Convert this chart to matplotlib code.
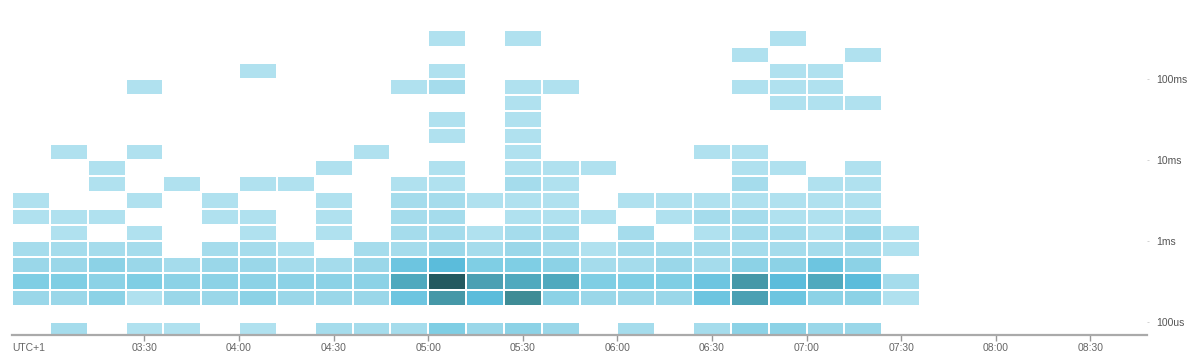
import numpy as np
import matplotlib
matplotlib.use("Agg")
import matplotlib.pyplot as plt
import matplotlib.dates as mdates
from matplotlib.colors import LinearSegmentedColormap, Normalize
from datetime import datetime, timedelta

plt.rcParams['font.family'] = ['Liberation Sans', 'DejaVu Sans']

# 12-minute time bins, 02:48 .. 07:36 (UTC+1)
bin_start = datetime(2024, 1, 1, 2, 48)
bin_minutes = 12
n_bins = 24

# latency buckets: 5 per decade, lowest bucket edge at 10^-4.2 s
bucket_lo_exp = -4.2
bucket_step = 0.2

# counts per bucket (rows: top bucket first), one column per time bin
counts = [
    # 0  1  2  3  4  5  6  7  8  9 10 11 12 13 14 15 16 17 18 19 20 21 22 23
    [0, 0, 0, 0, 0, 0, 0, 0, 0, 0, 0, 1, 0, 1, 0, 0, 0, 0, 0, 0, 1, 0, 0, 0],  # 18
    [0, 0, 0, 0, 0, 0, 0, 0, 0, 0, 0, 0, 0, 0, 0, 0, 0, 0, 0, 1, 0, 0, 1, 0],  # 17
    [0, 0, 0, 0, 0, 0, 1, 0, 0, 0, 0, 1, 0, 0, 0, 0, 0, 0, 0, 0, 1, 1, 0, 0],  # 16
    [0, 0, 0, 1, 0, 0, 0, 0, 0, 0, 1, 2, 0, 1, 1, 0, 0, 0, 0, 1, 1, 1, 0, 0],  # 15
    [0, 0, 0, 0, 0, 0, 0, 0, 0, 0, 0, 0, 0, 1, 0, 0, 0, 0, 0, 0, 1, 1, 1, 0],  # 14
    [0, 0, 0, 0, 0, 0, 0, 0, 0, 0, 0, 1, 0, 1, 0, 0, 0, 0, 0, 0, 0, 0, 0, 0],  # 13
    [0, 0, 0, 0, 0, 0, 0, 0, 0, 0, 0, 1, 0, 1, 0, 0, 0, 0, 0, 0, 0, 0, 0, 0],  # 12
    [0, 1, 0, 1, 0, 0, 0, 0, 0, 1, 0, 0, 0, 1, 0, 0, 0, 0, 1, 1, 0, 0, 0, 0],  # 11
    [0, 0, 1, 0, 0, 0, 0, 0, 1, 0, 0, 1, 0, 1, 1, 1, 0, 0, 0, 1, 1, 0, 1, 0],  # 10
    [0, 0, 1, 0, 1, 0, 1, 1, 0, 0, 1, 1, 0, 2, 1, 0, 0, 0, 0, 2, 0, 1, 1, 0],  # 9
    [1, 0, 0, 1, 0, 1, 0, 0, 1, 0, 2, 2, 1, 1, 1, 0, 1, 1, 1, 1, 1, 1, 1, 0],  # 8
    [1, 1, 1, 0, 0, 1, 1, 0, 1, 0, 2, 2, 0, 1, 1, 1, 0, 1, 2, 2, 1, 1, 1, 0],  # 7
    [0, 1, 0, 1, 0, 0, 1, 0, 1, 0, 2, 2, 1, 2, 2, 0, 2, 0, 1, 2, 2, 1, 3, 1],  # 6
    [2, 2, 2, 2, 0, 2, 2, 1, 0, 2, 2, 3, 2, 3, 2, 1, 2, 2, 2, 2, 2, 2, 2, 1],  # 5
    [3, 3, 4, 3, 2, 3, 3, 2, 2, 3, 6, 7, 5, 5, 4, 2, 2, 3, 2, 4, 4, 6, 4, 0],  # 4
    [5, 5, 4, 5, 4, 4, 4, 4, 4, 4, 8, 14, 9, 8, 8, 5, 5, 5, 6, 10, 7, 8, 7, 2],  # 3
    [3, 3, 4, 1, 3, 3, 4, 3, 3, 3, 6, 10, 7, 11, 4, 3, 3, 3, 6, 9, 6, 4, 4, 1],  # 2
    [0, 0, 0, 0, 0, 0, 0, 0, 0, 0, 0, 0, 0, 0, 0, 0, 0, 0, 0, 0, 0, 0, 0, 0],  # 1
    [0, 2, 0, 1, 1, 0, 1, 0, 2, 2, 2, 5, 3, 4, 3, 0, 2, 0, 2, 4, 4, 3, 3, 0],  # 0
]

y_ticks = [1e-4, 1e-3, 1e-2, 1e-1]
y_tick_labels = ["100us", "1ms", "10ms", "100ms"]
x_tick_labels = ["03:30", "04:00", "04:30", "05:00", "05:30", "06:00",
                 "06:30", "07:00", "07:30", "08:00", "08:30"]

z = np.array(counts[::-1], dtype=float)
z = np.ma.masked_where(z <= 0, z)

x_edges = mdates.date2num([bin_start + timedelta(minutes=bin_minutes * i)
                           for i in range(n_bins + 1)])
y_edges = 10 ** (bucket_lo_exp + bucket_step * np.arange(z.shape[0] + 1))

cmap = LinearSegmentedColormap.from_list("lat", [
    (0.0, "#b0e1ef"), (0.154, "#9ad7e9"), (0.308, "#7fcee4"),
    (0.462, "#5bbcdb"), (0.538, "#50a9be"), (0.692, "#4698a8"),
    (0.769, "#3f8c96"), (1.0, "#245a60")])

fig = plt.figure(figsize=(12, 3.62), dpi=100)
ax = fig.add_axes([12 / 1200, 27.5 / 362, (1147 - 12) / 1200, 334.5 / 362])

ax.pcolormesh(x_edges, y_edges, z, cmap=cmap, norm=Normalize(1, 14),
              edgecolors="white", linewidth=1.3)

ax.set_yscale("log")
ax.set_ylim(10 ** -4.154, 10 ** -0.025)
ax.set_xlim(mdates.date2num(bin_start), mdates.date2num(bin_start + timedelta(hours=6)))

tick_times = [datetime(2024, 1, 1, 3, 30) + timedelta(minutes=30 * i) for i in range(len(x_tick_labels))]
ax.set_xticks(mdates.date2num(tick_times))
ax.set_xticklabels(x_tick_labels)
ax.yaxis.tick_right()
ax.set_yticks(y_ticks)
ax.set_yticklabels(y_tick_labels)
ax.yaxis.set_minor_locator(matplotlib.ticker.NullLocator())

for s in ["top", "left", "right"]:
    ax.spines[s].set_visible(False)
ax.spines["bottom"].set_color("#aaaaaa")
ax.spines["bottom"].set_linewidth(1.6)
ax.spines["bottom"].set_zorder(5)

ax.tick_params(axis="x", length=4, width=1, color="#999999", labelcolor="#666666",
               labelsize=7.5, pad=2)
ax.tick_params(axis="y", length=1.5, width=0.6, color="#cccccc", labelcolor="#555555",
               labelsize=7.5, pad=5)

fig.text(12 / 1200, 1 - 348 / 362, "UTC+1", ha="left", va="center",
         fontsize=7.5, color="#666666")

fig.savefig("out.png", dpi=100)
